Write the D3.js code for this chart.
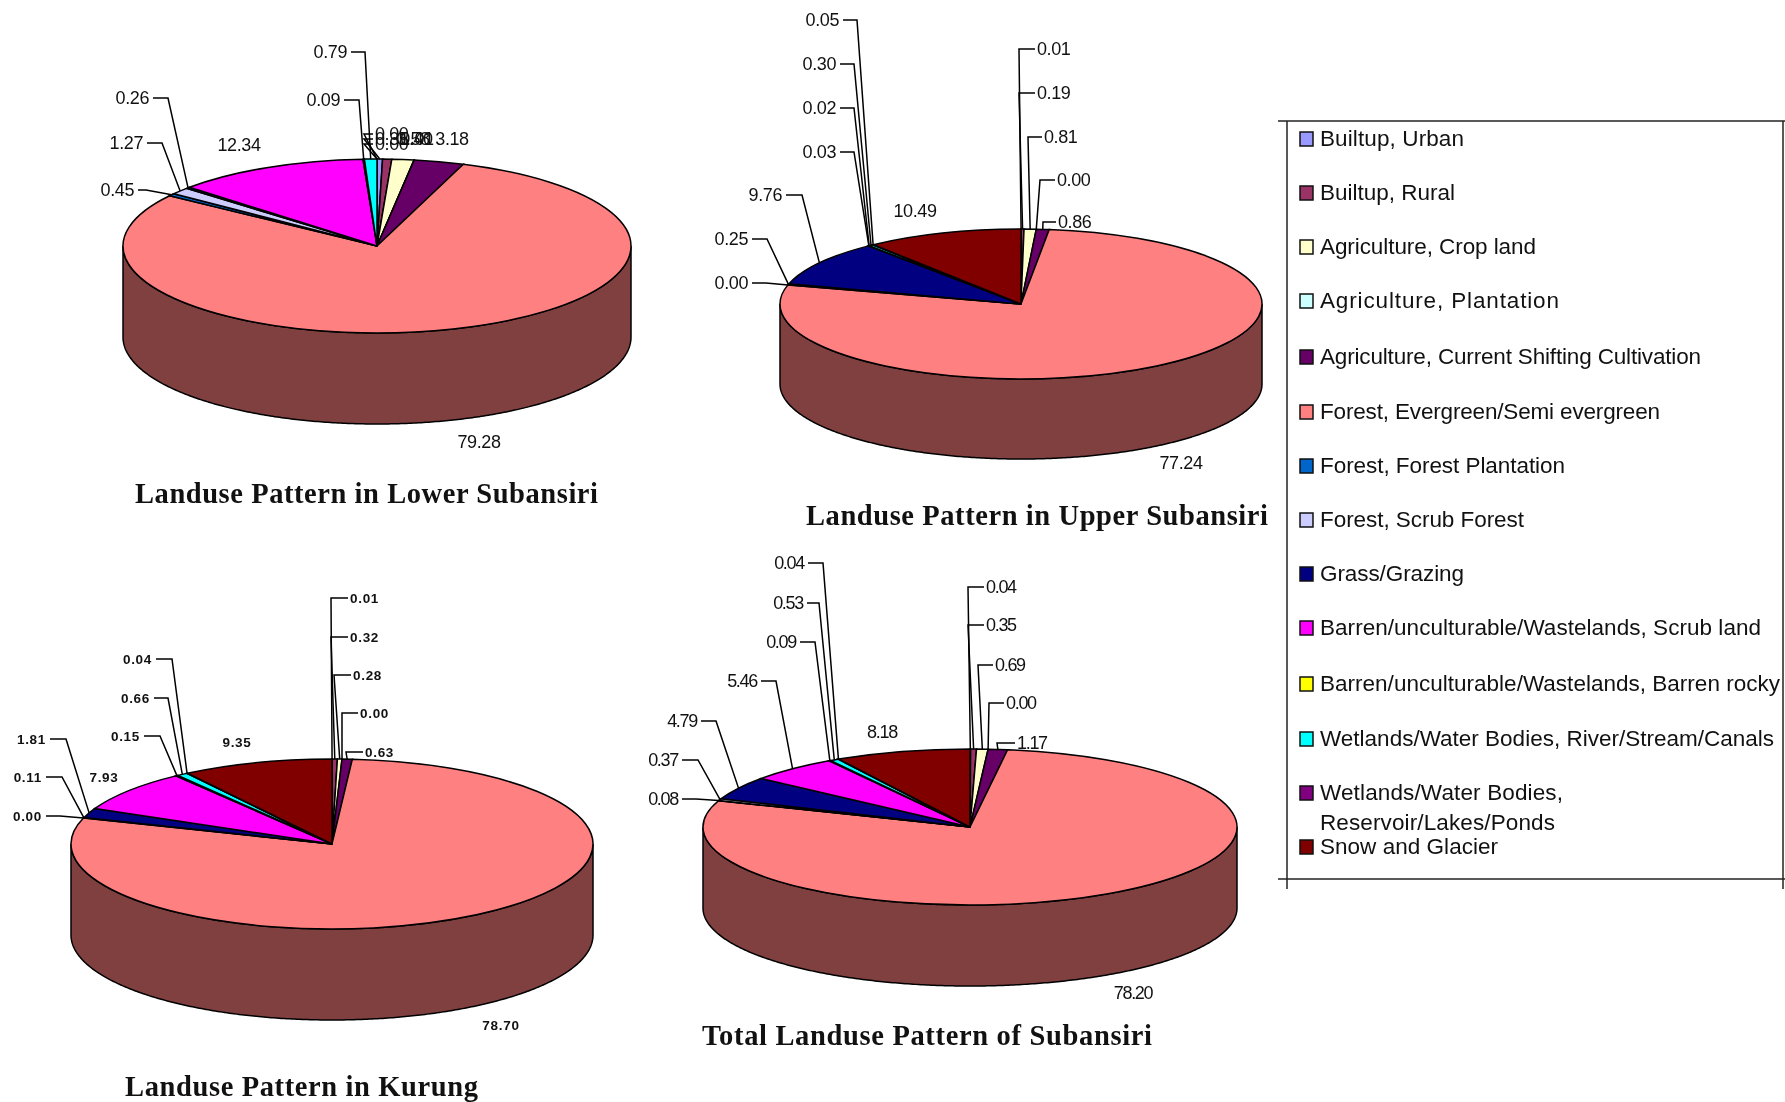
<!DOCTYPE html>
<html><head><meta charset="utf-8">
<script src="https://cdnjs.cloudflare.com/ajax/libs/d3/7.8.5/d3.min.js"></script>
<style>html,body{margin:0;background:#fff}svg{display:block;filter:blur(0.4px)}text{fill:#111}</style>
</head><body><svg id="c" width="1785" height="1102"></svg>
<script>
const categories = ["Builtup, Urban","Builtup, Rural","Agriculture, Crop land","Agriculture, Plantation","Agriculture, Current Shifting Cultivation","Forest, Evergreen/Semi evergreen","Forest, Forest Plantation","Forest, Scrub Forest","Grass/Grazing","Barren/unculturable/Wastelands, Scrub land","Barren/unculturable/Wastelands, Barren rocky","Wetlands/Water Bodies, River/Stream/Canals","Wetlands/Water Bodies, Reservoir/Lakes/Ponds","Snow and Glacier"];
const colors = ["#9999ff","#993366","#ffffcc","#ccffff","#660066","#ff8080","#0066cc","#ccccff","#000080","#ff00ff","#ffff00","#00ffff","#800080","#800000"];
const lowerValues = [0.35,0.58,1.40,0.01,3.18,79.28,0.45,1.27,0.26,12.34,0.09,0.79,0.00,0.00];
const upperValues = [0.01,0.19,0.81,0.00,0.86,77.24,0.00,0.25,9.76,0.03,0.02,0.30,0.05,10.49];
const kurungValues = [0.01,0.32,0.28,0.00,0.63,78.70,0.00,0.11,1.81,7.93,0.15,0.66,0.04,9.35];
const totalValues = [0.04,0.35,0.69,0.00,1.17,78.20,0.08,0.37,4.79,5.46,0.09,0.53,0.04,8.18];

// label placement per slice: [x, y, elbowX]; no elbow = free label centred on x
const lowerLabels = [[375,139,364],[413,139],[416,139],[417,139],[452,139],[479,442],[134,190,146],[143,143,162],[149,98,168],[239,145],[340,100,359],[347,52,365],[375,134,364],[375,144,364]];
const upperLabels = [[1037,49,1019],[1037,93,1019],[1044,137,1028],[1057,180,1040],[1058,222,1043],[1181,463],[748,283,766],[748,239,767],[782,195,802],[836,152,854],[836,108,854],[836,64,854],[839,20,857],[915,211]];
const kurungLabels = [[350,598,331],[350,637,331],[353,675,334],[360,713,342],[365,752,346],[501,1025],[42,816,60],[42,777,62],[46,739,66],[104,777],[140,736,160],[150,698,168],[152,659,172],[237,742]];
const totalLabels = [[986,587,968],[986,625,968],[995,665,978],[1006,703,989],[1017,743,997],[1133,993],[678,799,696],[678,760,698],[697,721,716],[757,681,776],[796,642,815],[803,603,819],[804,563,823],[882,732]];

const charts = [
 {title:"Landuse Pattern in Lower Subansiri",values:lowerValues,labels:lowerLabels,cx:377,cy:246,rx:254,ry:87,depth:91,tx:135,tw:463,ty:503,font:{size:18,weight:"normal",ls:-0.4}},
 {title:"Landuse Pattern in Upper Subansiri",values:upperValues,labels:upperLabels,cx:1021,cy:304,rx:241,ry:75,depth:80,tx:806,tw:462,ty:525,font:{size:18,weight:"normal",ls:-0.4}},
 {title:"Landuse Pattern in Kurung",values:kurungValues,labels:kurungLabels,cx:332,cy:844,rx:261,ry:85,depth:91,tx:125,tw:353,ty:1096,font:{size:13.5,weight:"bold",ls:0.7}},
 {title:"Total Landuse Pattern of Subansiri",values:totalValues,labels:totalLabels,cx:970,cy:827,rx:267,ry:78,depth:81,tx:702,tw:450,ty:1045,font:{size:18,weight:"normal",ls:-1.3}}
];

const svg = d3.select("#c");
const SANS = "'Liberation Sans',Arial,sans-serif";

charts.forEach(ch=>{
  const g = svg.append("g").attr("transform",`translate(${ch.cx},${ch.cy})`);
  const slices = d3.pie().value(d=>d).sort(null)(ch.values);
  const sx = d3.scaleLinear().domain([0,1]).range([0,ch.rx]);
  const sy = d3.scaleLinear().domain([0,1]).range([0,ch.ry]);
  const px = a=>sx(Math.sin(a)), py = a=>-sy(Math.cos(a));

  // side wall: the front half of every slice
  const wall = d3.area().x(d=>px(d)).y0(d=>py(d)).y1(d=>py(d)+ch.depth);
  slices.forEach((s,i)=>{
    const a0=Math.max(s.startAngle,Math.PI/2), a1=Math.min(s.endAngle,Math.PI*1.5);
    if(a1<=a0) return;
    const n=Math.ceil((a1-a0)/0.01), pts=d3.range(n+1).map(k=>a0+(a1-a0)*k/n);
    const c=d3.rgb(colors[i]);
    g.append("path").attr("d",wall(pts)).attr("fill",d3.rgb(c.r/2,c.g/2,c.b/2))
     .attr("stroke","#000").attr("stroke-width",1.5);
  });

  // top surface: circular arcs squashed into an ellipse
  const arc = d3.arc().innerRadius(0).outerRadius(ch.rx);
  const top = g.append("g").attr("transform",`scale(1,${ch.ry/ch.rx})`);
  slices.forEach((s,i)=>{
    if(s.value===0) return;
    top.append("path").attr("d",arc(s)).attr("fill",colors[i])
       .attr("stroke","#000").attr("stroke-width",1.5).attr("vector-effect","non-scaling-stroke");
  });

  // labels and leaders
  const line = d3.line();
  const lab = svg.append("g").attr("font-family",SANS).attr("font-size",ch.font.size)
     .attr("font-weight",ch.font.weight).attr("letter-spacing",ch.font.ls);
  slices.forEach((s,i)=>{
    const [x,y,elbow] = ch.labels[i];
    const leftSide = elbow!==undefined && elbow>x;
    lab.append("text").attr("x",x).attr("y",y).attr("dy","0.36em").text(s.value.toFixed(2))
       .attr("text-anchor",elbow===undefined?"middle":leftSide?"end":"start");
    if(elbow===undefined) return;
    const mid=(s.startAngle+s.endAngle)/2;
    lab.append("path").attr("fill","none").attr("stroke","#000").attr("stroke-width",1.5)
       .attr("d",line([[leftSide?x+4:x-2,y],[elbow,y],[ch.cx+px(mid),ch.cy+py(mid)]]));
  });

  svg.append("text").text(ch.title).attr("x",ch.tx).attr("y",ch.ty)
     .attr("font-family","'Liberation Serif','Times New Roman',serif").attr("font-weight","bold")
     .attr("font-size",28.5).attr("textLength",ch.tw).attr("lengthAdjust","spacing");
});

// legend
const frame = [[1278,121,1785,121],[1278,879,1785,879],[1287,121,1287,889],[1783,121,1783,889]];
svg.append("g").selectAll("line").data(frame).join("line")
  .attr("x1",d=>d[0]).attr("y1",d=>d[1]).attr("x2",d=>d[2]).attr("y2",d=>d[3])
  .attr("stroke","#222").attr("stroke-width",1.5);

const legendY = [139,193,247,301,357,412,466,520,574,628,684,739,793,847];
const legendWidths = [144,135,216,239,381,340,245,204,144,441,460,454,243,178];
const leg = svg.append("g").attr("font-family",SANS).attr("font-size",22.5);
categories.forEach((c,i)=>{
  const y=legendY[i];
  leg.append("rect").attr("x",1300).attr("y",y-7).attr("width",13).attr("height",14)
     .attr("fill",colors[i]).attr("stroke","#111").attr("stroke-width",1.5);
  if(i===12){
    leg.append("text").attr("x",1320).attr("y",y-1).attr("dy","0.36em").text("Wetlands/Water Bodies,").attr("textLength",243).attr("lengthAdjust","spacing");
    leg.append("text").attr("x",1320).attr("y",822).attr("dy","0.36em").text("Reservoir/Lakes/Ponds").attr("textLength",235).attr("lengthAdjust","spacing");
  } else {
    leg.append("text").attr("x",1320).attr("y",y-1.5).attr("dy","0.36em").text(c)
       .attr("textLength",legendWidths[i]).attr("lengthAdjust","spacing");
  }
});
</script></body></html>
